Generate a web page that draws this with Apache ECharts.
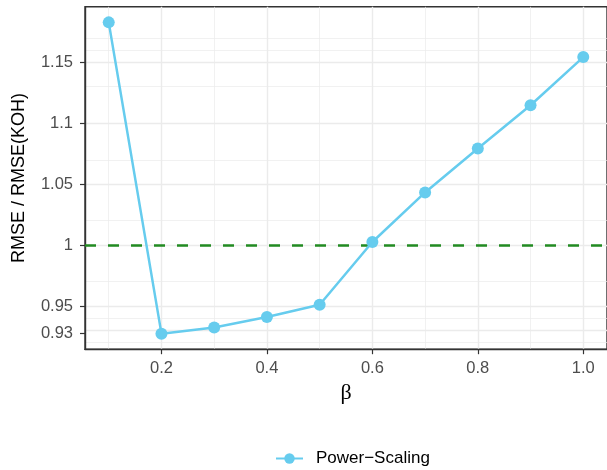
<!DOCTYPE html>
<html>
<head>
<meta charset="utf-8">
<script src="https://cdn.jsdelivr.net/npm/echarts@6/dist/echarts.min.js"></script>
<style>html,body{margin:0;padding:0;background:#fff;}#c{width:607px;height:470px;}</style>
</head>
<body>
<div id="c"></div>
<script>
// ---- data ----
var betaValues = [0.1, 0.2, 0.3, 0.4, 0.5, 0.6, 0.7, 0.8, 0.9, 1.0];
var ratioValues = [1.1828, 0.9273, 0.9324, 0.9409, 0.9510, 1.0025, 1.0432, 1.0793, 1.1148, 1.1543];
var seriesName = 'Power\u2212Scaling';
var xTickValues = [0.2, 0.4, 0.6, 0.8, 1.0];
var xTickLabels = ['0.2', '0.4', '0.6', '0.8', '1.0'];
var xMinorGrid = [0.1, 0.3, 0.5, 0.7, 0.9];
var yTickValues = [0.9273, 0.95, 1, 1.05, 1.1, 1.15];
var yTickLabels = ['0.93', '0.95', '1', '1.05', '1.1', '1.15'];
var yMinorGrid = [0.91595, 0.93865, 0.975, 1.025, 1.075, 1.125, 1.16135, 1.1727];
var referenceLevel = 1;

var xMin = 0.055, xMax = 1.045, yMin = 0.91453, yMax = 1.19558;

var gridMajor = '#EBEBEB';
var lineColor = '#66CCEE';

function gridLines(vals, axis, width) {
  return vals.map(function (v) {
    var o = {}; o[axis] = v;
    o.lineStyle = { color: gridMajor, width: width, type: 'solid' };
    return o;
  });
}

var chart = echarts.init(document.getElementById('c'), null, { renderer: 'canvas' });
chart.setOption({
  animation: false,
  backgroundColor: '#fff',
  textStyle: { fontFamily: 'Liberation Sans' },
  grid: {
    left: 85, top: 6.8, width: 526, height: 342.4,
    show: true, borderColor: '#333333', borderWidth: 1.4, backgroundColor: 'transparent'
  },
  xAxis: {
    type: 'value', min: xMin, max: xMax,
    name: '\u03B2', nameLocation: 'middle', nameGap: 31,
    nameTextStyle: { fontFamily: 'Liberation Serif', fontSize: 22, color: '#000' },
    axisLine: { show: true, onZero: false, lineStyle: { color: '#333333', width: 1.4 } },
    axisTick: { show: true, length: 5, customValues: xTickValues, lineStyle: { color: '#333333', width: 1.2 } },
    axisLabel: {
      customValues: xTickValues, margin: 11, fontSize: 16.5, color: '#4D4D4D',
      formatter: function (v) { var i = xTickValues.indexOf(v); return i >= 0 ? xTickLabels[i] : ''; }
    },
    splitLine: { show: false }
  },
  yAxis: {
    type: 'value', min: yMin, max: yMax,
    name: 'RMSE / RMSE(KOH)', nameLocation: 'middle', nameGap: 57, nameRotate: 90,
    nameTextStyle: { fontSize: 18, color: '#000' },
    axisLine: { show: true, onZero: false, lineStyle: { color: '#333333', width: 1.4 } },
    axisTick: { show: true, length: 5, customValues: yTickValues, lineStyle: { color: '#333333', width: 1.2 } },
    axisLabel: {
      customValues: yTickValues, margin: 12, fontSize: 16.5, color: '#4D4D4D',
      formatter: function (v) { var i = yTickValues.indexOf(v); return i >= 0 ? yTickLabels[i] : ''; }
    },
    splitLine: { show: false }
  },
  legend: {
    left: 270, top: 445,
    itemWidth: 27, itemHeight: 13,
    textStyle: { fontSize: 17, color: '#000', padding: [0, 0, 0, 8] },
    data: [seriesName]
  },
  series: [
    {
      type: 'line', name: '_grid', silent: true, data: [], z: 0,
      markLine: {
        silent: true, symbol: 'none', label: { show: false }, animation: false, z: 0,
        data: [].concat(
          gridLines(yMinorGrid, 'yAxis', 0.7),
          gridLines(xMinorGrid, 'xAxis', 0.7),
          gridLines(yTickValues, 'yAxis', 1.4),
          gridLines(xTickValues, 'xAxis', 1.4)
        )
      }
    },
    {
      type: 'line', name: '_ref', silent: true, data: [], z: 1,
      markLine: {
        silent: true, symbol: 'none', label: { show: false }, animation: false, z: 1,
        data: [{ yAxis: referenceLevel, lineStyle: { color: '#228B22', width: 2.6, type: [11, 12] } }]
      }
    },
    {
      type: 'line', name: seriesName, z: 10,
      data: betaValues.map(function (b, i) { return [b, ratioValues[i]]; }),
      symbol: 'circle', symbolSize: 12, showSymbol: true,
      lineStyle: { color: lineColor, width: 2.5 },
      itemStyle: { color: lineColor, borderWidth: 0 }
    }
  ]
});
</script>
</body>
</html>
